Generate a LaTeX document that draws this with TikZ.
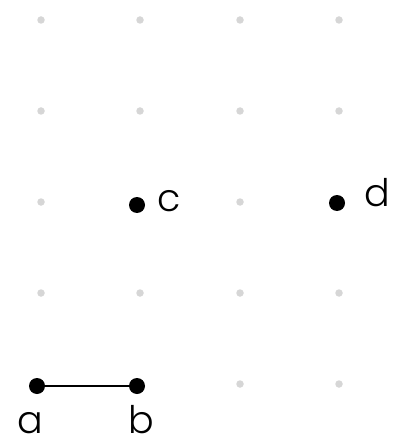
\documentclass[tikz,border=0pt]{standalone}
\usepackage{fontspec}
\setmainfont{Poppins}[UprightFont=* Light]
\usetikzlibrary{positioning}

\begin{document}
\begin{tikzpicture}[
    x=1pt, y=-1pt, % pixel-like units, y downward
    griddot/.style={fill=black!16, circle, inner sep=0pt, minimum size=7.5pt}, % Style for the background grid
    dot/.style={fill=black, circle, inner sep=0pt, minimum size=16pt}, % Style for the points
    labelstyle/.style={font=\fontsize{38}{38}\selectfont, inner sep=0pt} % Style for the letters
]

    % Frame
    \useasboundingbox (0,0) rectangle (401,446);

    % Grid of light dots
    \foreach \gx in {41,140,240,339} {
        \foreach \gy in {20,111,202,293,384} {
            \node[griddot] at (\gx,\gy) {};
        }
    }

    % Points
    \node[dot] (a) at (37,386) {};
    \node[dot] (b) at (137,386) {};
    \node[dot] (c) at (137,205) {};
    \node[dot] (d) at (337,203) {};

    % Labels
    \node[labelstyle] (la) at (30,423) {a};
    \node[labelstyle] (lb) at (141,420) {b};
    \node[labelstyle] (lc) at (169,201) {c};
    \node[labelstyle] (ld) at (377,193) {d};

    % Segment from a to b
    \draw[line width=2pt] (a) -- (b);

\end{tikzpicture}
\end{document}
